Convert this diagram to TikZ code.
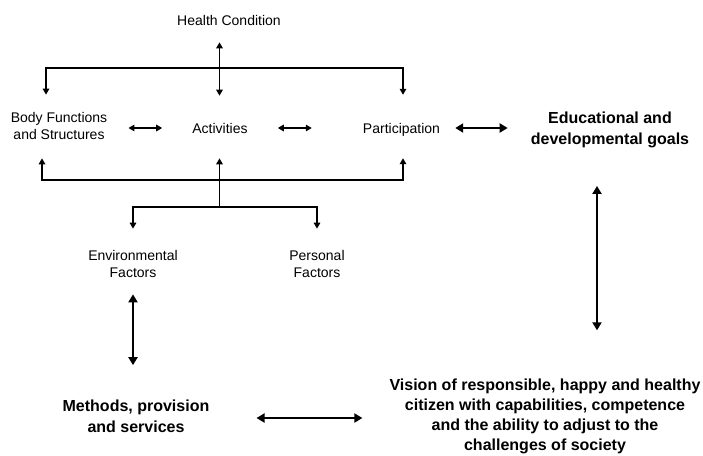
\documentclass[tikz,border=0pt]{standalone}
\usepackage{fontspec}
\setmainfont{Liberation Sans}
\usetikzlibrary{arrows.meta}
\begin{document}
\begin{tikzpicture}[x=1pt,y=-1pt,
  lbl/.style={inner sep=0pt,align=center,font=\fontsize{14}{17}\selectfont},
  boldlbl/.style={inner sep=0pt,align=center,font=\fontsize{16}{20.5}\selectfont\bfseries},
  thinline/.style={line width=1.8pt,-{Triangle[length=6pt,width=6.5pt]}},
  thinboth/.style={line width=1.8pt,{Triangle[length=6pt,width=6.5pt]}-{Triangle[length=6pt,width=6.5pt]}},
  thickboth/.style={line width=2.8pt,{Triangle[length=8pt,width=9pt]}-{Triangle[length=8pt,width=9pt]}},
  plain/.style={line width=1.8pt}]
\path[fill=white] (0,0) rectangle (703,455);
\useasboundingbox (0,0) rectangle (703,455);

% ICF components
\node[lbl] (hc) at (229,20) {Health Condition};
\node[lbl] (body) at (59,125.5) {Body Functions\\and Structures};
\node[lbl] (act) at (220,128) {Activities};
\node[lbl] (part) at (401.5,129.5) {Participation};
\node[lbl] (env) at (133,263.5) {Environmental\\Factors};
\node[lbl] (pers) at (317,263.5) {Personal\\Factors};

% educational framework
\node[boldlbl] (edu) at (610,130) {Educational and\\developmental goals};
\node[boldlbl] (meth) at (136,416.5) {Methods, provision\\and services};
\node[boldlbl,font=\fontsize{16}{20}\selectfont\bfseries] (vis) at (545,416) {Vision of responsible, happy and healthy\\citizen with capabilities, competence\\and the ability to adjust to the\\challenges of society};

% bracket junctions and guide lines
\coordinate (tL) at (46,68);
\coordinate (tR) at (403,68);
\coordinate (bL) at (42,180);
\coordinate (bR) at (403,180);
\coordinate (eM) at (219.5,207);
\coordinate (eL) at (133,207);
\coordinate (eR) at (317,207);
\coordinate (rv) at (597,258);
\coordinate (hz) at (300,418);

% upper bracket
\draw[thinboth,shorten <=17pt,shorten >=28pt]
  (body.north -| tL) -- (tL) -- (tR) -- (part.north -| tR);
\draw[thinboth,shorten <=27pt,shorten >=17pt]
  (act.north -| eM) -- (hc.south -| eM);

% lower bracket
\draw[thinboth,shorten <=19pt,shorten >=22pt]
  (body.south -| bL) -- (bL) -- (bR) -- (part.south -| bR);
\draw[thinline,shorten >=25pt] (eM) -- (act.south -| eM);
\draw[plain] (eM) -- (eM |- bL);

% contextual factors
\draw[thinboth,shorten <=21pt,shorten >=21pt]
  (env.north -| eL) -- (eL) -- (eR) -- (pers.north -| eR);

% horizontal links between components
\draw[thinboth,shorten <=21pt,shorten >=30pt] (body.east |- act) -- (act.west);
\draw[thinboth,shorten <=30pt,shorten >=51pt] (act.east) -- (act.east -| part.west);

% links of the educational framework
\draw[thickboth,shorten <=15pt,shorten >=23pt] (act -| part.east) -- (act -| edu.west);
\draw[thickboth,shorten <=38pt,shorten >=48pt] (edu.south -| rv) -- (vis.north -| rv);
\draw[thickboth,shorten <=17pt,shorten >=35pt] (env.south) -- (env.south |- meth.north);
\draw[thickboth,shorten <=47pt,shorten >=27pt] (hz -| meth.east) -- (hz -| vis.west);
\end{tikzpicture}
\end{document}
